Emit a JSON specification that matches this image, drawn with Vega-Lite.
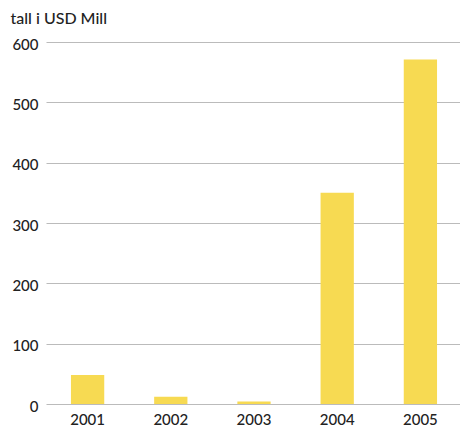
{
  "$schema": "https://vega.github.io/schema/vega-lite/v6.json",
  "autosize": "none",
  "width": 416,
  "height": 362,
  "padding": {"left": 46, "top": 42, "right": 0, "bottom": 23},
  "background": "white",
  "data": {"values": [
    {"year": "2001", "value": 48},
    {"year": "2002", "value": 12},
    {"year": "2003", "value": 4},
    {"year": "2004", "value": 350},
    {"year": "2005", "value": 571}
  ]},
  "mark": {"type": "bar", "color": "#F7DA52"},
  "encoding": {
    "x": {
      "field": "year", "type": "ordinal",
      "scale": {"paddingInner": 0.6, "paddingOuter": 0.3},
      "axis": {"title": null, "labelAngle": 0, "ticks": false, "domain": false,
               "labelPadding": 8, "labelFontSize": 15, "labelColor": "#222222",
               "labelFont": "Lato", "labelFontWeight": 500}
    },
    "y": {
      "field": "value", "type": "quantitative",
      "scale": {"domain": [0, 600]},
      "axis": {"title": "tall i USD Mill", "titleAngle": 0, "titleX": -36, "titleY": -19,
               "titleAlign": "left", "titleBaseline": "alphabetic", "titleFontSize": 16,
               "titleFont": "Lato", "titleFontWeight": 500, "titleColor": "#222222",
               "values": [0, 100, 200, 300, 400, 500, 600],
               "ticks": false, "domain": false, "labelPadding": 8, "labelFontSize": 15,
               "labelColor": "#222222", "labelFont": "Lato", "labelFontWeight": 500,
               "labelOffset": 2,
               "gridColor": "#BBBBBB", "gridWidth": 1.2}
    }
  },
  "config": {"view": {"stroke": null}}
}
